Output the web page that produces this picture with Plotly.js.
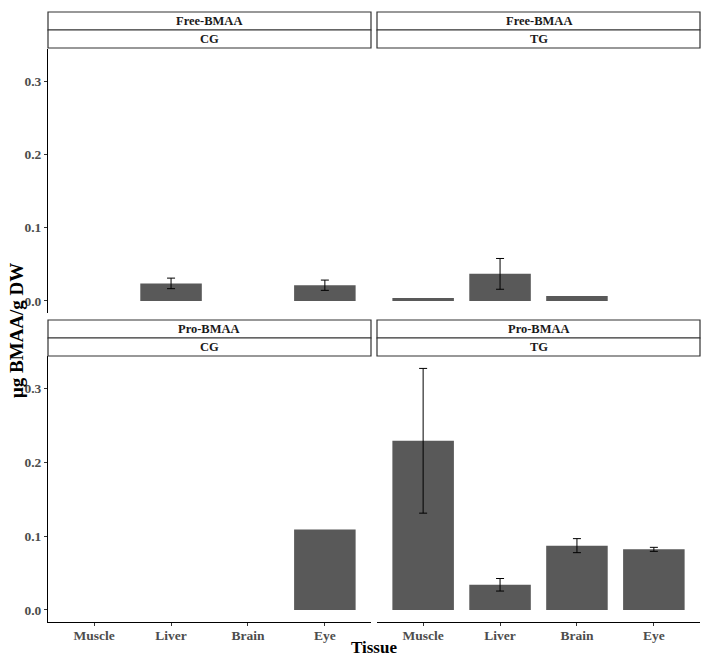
<!DOCTYPE html>
<html>
<head>
<meta charset="utf-8">
<script src="https://cdn.plot.ly/plotly-3.0.1.min.js"></script>
<style>html,body{margin:0;padding:0;background:#fff;}#chart{width:713px;height:663px;}</style>
</head>
<body>
<div id="chart"></div>
<script>
const tissues = ["Muscle", "Liver", "Brain", "Eye"];
const freeCG = [0, 0.024, 0, 0.0215];
const freeCGerr = [null, 0.0072, null, 0.007];
const freeTG = [0.004, 0.037, 0.0068, 0];
const freeTGerr = [null, 0.021, null, null];
const proCG = [0, 0, 0, 0.109];
const proCGerr = [null, null, null, null];
const proTG = [0.229, 0.034, 0.087, 0.082];
const proTGerr = [0.098, 0.0085, 0.0095, 0.0027];
const rowLabels = ["Free-BMAA", "Pro-BMAA"];
const colLabels = ["CG", "TG"];
const yTickVals = [0, 0.1, 0.2, 0.3];
const yTickText = ["0.0", "0.1", "0.2", "0.3"];

const W = 713, H = 663;
const px = v => v / W;
const py = v => (H - v) / H;
const serif = "Liberation Serif, Times New Roman, serif";
const barColor = "#595959";

function bars(y, err, xa, ya) {
  return [{
    type: "bar", x: tissues, y: y, xaxis: xa, yaxis: ya, width: 0.8,
    marker: {color: barColor, line: {width: 0}},
    showlegend: false, hoverinfo: "x+y"
  }, {
    type: "scatter", mode: "markers", x: tissues,
    y: y.map((v, i) => err[i] == null ? null : v),
    xaxis: xa, yaxis: ya, marker: {size: 1, opacity: 0},
    error_y: {type: "data", array: err.map(e => e == null ? 0 : e), visible: true, color: "#000", thickness: 1, width: 4},
    showlegend: false, hoverinfo: "skip"
  }];
}

const data = [].concat(
  bars(freeCG, freeCGerr, "x", "y"),
  bars(freeTG, freeTGerr, "x2", "y2"),
  bars(proCG, proCGerr, "x3", "y3"),
  bars(proTG, proTGerr, "x4", "y4")
);

const yRange = [-0.0164, 0.3438];
const xRange = [-0.6, 3.6];
const leftDom = [px(48), px(371)];
const rightDom = [px(377), px(700)];
const topDom = [py(313), py(49)];
const botDom = [py(622), py(356)];
const tickFont = {family: serif, size: 13.5, color: "#4D4D4D", weight: "bold"};

function xaxis(dom, anchor, showLabels) {
  return {
    domain: dom, anchor: anchor, type: "category", range: xRange,
    showline: showLabels, linecolor: "#000", linewidth: 1,
    ticks: showLabels ? "outside" : "", ticklen: 3, tickcolor: "#333",
    showticklabels: showLabels, tickfont: tickFont, ticklabelstandoff: -2,
    showgrid: false, zeroline: false, fixedrange: true
  };
}
function yaxis(dom, anchor, showLabels) {
  return {
    domain: dom, anchor: anchor, range: yRange,
    tickvals: yTickVals, ticktext: yTickText,
    showline: showLabels, linecolor: "#000", linewidth: 1,
    ticks: showLabels ? "outside" : "", ticklen: 3, tickcolor: "#333",
    showticklabels: showLabels, tickfont: tickFont, ticklabelstandoff: 0,
    showgrid: false, zeroline: false, fixedrange: true
  };
}

const shapes = [];
const annotations = [];
const cols = [[48, 371], [377, 700]];
const rows = [[12, 30, 48], [320, 338, 356]];
rows.forEach((r, ri) => {
  cols.forEach((c, ci) => {
    shapes.push({type: "rect", xref: "paper", yref: "paper", x0: px(c[0]), x1: px(c[1]), y0: py(r[0]), y1: py(r[1]), fillcolor: "#fff", line: {color: "#333", width: 1.2}});
    shapes.push({type: "rect", xref: "paper", yref: "paper", x0: px(c[0]), x1: px(c[1]), y0: py(r[1]), y1: py(r[2]), fillcolor: "#fff", line: {color: "#333", width: 1.2}});
    annotations.push({xref: "paper", yref: "paper", x: px((c[0] + c[1]) / 2), y: py((r[0] + r[1]) / 2), text: rowLabels[ri], showarrow: false, xanchor: "center", yanchor: "middle", font: {family: serif, size: 12.5, color: "#1a1a1a", weight: "bold"}});
    annotations.push({xref: "paper", yref: "paper", x: px((c[0] + c[1]) / 2), y: py((r[1] + r[2]) / 2), text: colLabels[ci], showarrow: false, xanchor: "center", yanchor: "middle", font: {family: serif, size: 12.5, color: "#1a1a1a", weight: "bold"}});
  });
});
annotations.push({xref: "paper", yref: "paper", x: px(374), y: py(647), text: "Tissue", showarrow: false, xanchor: "center", yanchor: "middle", font: {family: serif, size: 17, color: "#000", weight: "bold"}});
annotations.push({xref: "paper", yref: "paper", x: px(16), y: py(331), text: "μg BMAA/g DW", textangle: -90, showarrow: false, xanchor: "center", yanchor: "middle", font: {family: serif, size: 19, color: "#000", weight: "bold"}});

const layout = {
  width: W, height: H,
  margin: {l: 0, r: 0, t: 0, b: 0},
  paper_bgcolor: "#fff", plot_bgcolor: "rgba(0,0,0,0)",
  bargap: 0.2,
  xaxis: xaxis(leftDom, "y", false),
  yaxis: yaxis(topDom, "x", true),
  xaxis2: xaxis(rightDom, "y2", false),
  yaxis2: yaxis(topDom, "x2", false),
  xaxis3: xaxis(leftDom, "y3", true),
  yaxis3: yaxis(botDom, "x3", true),
  xaxis4: xaxis(rightDom, "y4", true),
  yaxis4: yaxis(botDom, "x4", false),
  shapes: shapes,
  annotations: annotations
};

Plotly.newPlot("chart", data, layout, {displayModeBar: false, staticPlot: true});
</script>
</body>
</html>
